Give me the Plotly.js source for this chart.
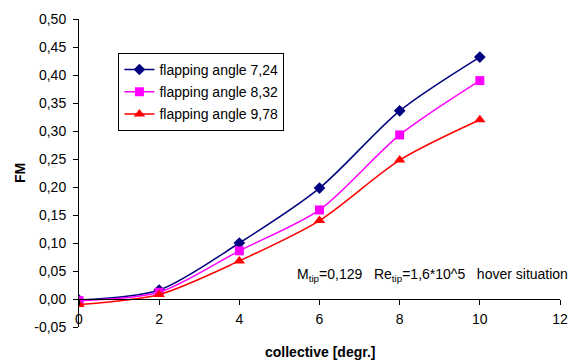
<!DOCTYPE html>
<html><head><meta charset="utf-8">
<script src="https://cdn.plot.ly/plotly-3.0.1.min.js"></script>
<style>html,body{margin:0;padding:0;background:#fff}#chart{width:584px;height:361px}</style>
</head><body><div id="chart"></div>
<script>
const collective = [0, 2, 4, 6, 8, 10];
const fm724 = [-0.002, 0.016, 0.100, 0.198, 0.336, 0.432];
const fm832 = [-0.003, 0.012, 0.086, 0.159, 0.293, 0.390];
const fm978 = [-0.010, 0.008, 0.068, 0.140, 0.248, 0.320];
const seriesNames = ['flapping angle 7,24', 'flapping angle 8,32', 'flapping angle 9,78'];
const yTickVals = [-0.05, 0, 0.05, 0.1, 0.15, 0.2, 0.25, 0.3, 0.35, 0.4, 0.45, 0.5];
const yTickText = ['-0,05', '0,00', '0,05', '0,10', '0,15', '0,20', '0,25', '0,30', '0,35', '0,40', '0,45', '0,50'];
const xTickVals = [0, 2, 4, 6, 8, 10, 12];

const font = {family: 'Liberation Sans, Arial, sans-serif', size: 14, color: '#000'};
function tr(y, name, color, symbol, size, grp) {
  return {x: collective, y: y, name: name, type: 'scatter', mode: 'lines+markers', legendgroup: grp,
    line: {color: color, width: 1.5, shape: 'spline', smoothing: 0.8},
    marker: {color: color, symbol: symbol, size: size}};
}
const data = [
  tr(fm724, seriesNames[0], '#000080', 'diamond', 9, 'a'),
  tr(fm832, seriesNames[1], '#FF00FF', 'square', 9, 'b'),
  tr(fm978, seriesNames[2], '#FF0000', 'triangle-up', 10, 'c')
];
const yr = [-0.05, 0.5];
const layout = {
  width: 584, height: 361,
  margin: {l: 79, r: 24, t: 19, b: 34},
  paper_bgcolor: '#fff', plot_bgcolor: '#fff',
  font: font,
  showlegend: true,
  legend: {x: 0.082, y: 0.89, xanchor: 'left', yanchor: 'top', bordercolor: '#000', borderwidth: 1,
    bgcolor: '#fff', font: {family: font.family, size: 14, color: '#000'}, tracegroupgap: 1,
    itemwidth: 30},
  xaxis: {range: [0, 12], tickvals: xTickVals, ticktext: xTickVals.map(String),
    showgrid: false, zeroline: false, showline: true, linecolor: '#000', linewidth: 1,
    ticks: 'outside', ticklen: 5, tickcolor: '#000', anchor: 'free',
    position: (0 - yr[0]) / (yr[1] - yr[0]), tickfont: {size: 14}, ticklabelstandoff: 2},
  yaxis: {range: yr, tickvals: yTickVals, ticktext: yTickText,
    showgrid: false, zeroline: false, showline: true, linecolor: '#000', linewidth: 1,
    ticks: 'outside', ticklen: 5, tickcolor: '#000', tickfont: {size: 14}, ticklabelstandoff: 4,
    title: {text: '<b>FM</b>', font: {size: 14}, standoff: 5}},
  annotations: [
    {xref: 'paper', yref: 'paper', x: 0.5, y: -0.081, yanchor: 'middle', showarrow: false,
     text: '<b>collective [degr.]</b>', font: {size: 14}},
    {xref: 'paper', yref: 'paper', x: 1.02, y: 0.168, xanchor: 'right', yanchor: 'middle', showarrow: false,
     text: 'M<sub>tip</sub>=0,129   Re<sub>tip</sub>=1,6*10^5   hover situation', font: {size: 14}}
  ]
};
Plotly.newPlot('chart', data, layout, {displayModeBar: false, staticPlot: true});
</script></body></html>
